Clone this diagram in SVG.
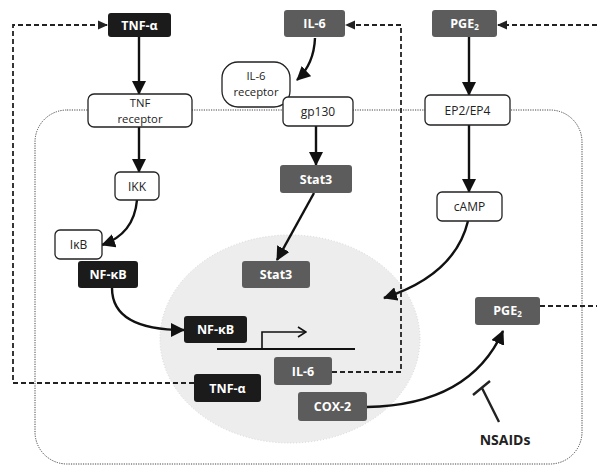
<svg xmlns="http://www.w3.org/2000/svg" width="597" height="466" viewBox="0 0 597 466">
<defs>
<marker id="ah" markerUnits="userSpaceOnUse" markerWidth="14" markerHeight="14" refX="13" refY="7" orient="auto">
<path d="M0,0 L14,7 L0,14 Z" fill="#111"/>
</marker>
<marker id="ahs" markerUnits="userSpaceOnUse" markerWidth="10" markerHeight="10" refX="9" refY="5" orient="auto">
<path d="M0,0.5 L10,5 L0,9.5 Z" fill="#222"/>
</marker>
<marker id="open" markerUnits="userSpaceOnUse" markerWidth="10" markerHeight="12" refX="9" refY="6" orient="auto">
<path d="M1,1 L9,6 L1,11" fill="none" stroke="#111" stroke-width="1.6"/>
</marker>
</defs>
<style>
text{font-family:"Open Sans","Noto Sans","Liberation Sans",sans-serif;text-anchor:middle}
.w rect{fill:#fff;stroke:#222;stroke-width:1.3}
.w text{font-size:12px;fill:#222}
.w text.two{font-size:11.3px}
.k rect{fill:#1b1b1b}
.g rect{fill:#5c5c5c}
.k text,.g text{font-size:12.5px;font-weight:bold;fill:#fff}
.arr{fill:none;stroke:#111;stroke-width:2.4}
.dash{fill:none;stroke:#222;stroke-width:1.8;stroke-dasharray:5,3}
</style>
<rect width="597" height="466" fill="#fff"/>
<ellipse id="nucleus" cx="290" cy="339" rx="130" ry="104" fill="#ededed" stroke="#d6d6d6" stroke-width="1" stroke-dasharray="1,2"/>
<rect id="cell" x="35" y="110" width="547" height="354" rx="32" fill="none" stroke="#444" stroke-width="1" stroke-dasharray="1.2,1.2"/>
<g id="connectors">
<path class="arr" d="M139,37 V94" marker-end="url(#ah)"/>
<path class="arr" d="M315,38 Q314,64 297,80" marker-end="url(#ah)"/>
<path class="arr" d="M469,37 V95" marker-end="url(#ah)"/>
<path class="arr" d="M139,127 V172" marker-end="url(#ah)"/>
<path class="arr" d="M137,200 Q134,234 102,245" marker-end="url(#ah)"/>
<path class="arr" d="M112,288 Q112,330 184,330" marker-end="url(#ah)"/>
<path class="arr" d="M316,126 V165" marker-end="url(#ah)"/>
<path class="arr" d="M314,193 L277,260" stroke-width="2.2" marker-end="url(#ah)"/>
<path class="arr" d="M469,125 V192" marker-end="url(#ah)"/>
<path class="arr" d="M468,221 Q455,275 384,298" marker-end="url(#ah)"/>
<path class="arr" d="M367,407 Q470,405 503,331" marker-end="url(#ah)"/>
<path d="M499,422 L482,388 M473,395 L490,381" fill="none" stroke="#222" stroke-width="2.4"/>
<path d="M217,349 H355" stroke="#111" stroke-width="1.8"/>
<path d="M262,349 V332 H306" fill="none" stroke="#111" stroke-width="1.6" marker-end="url(#open)"/>
<path class="dash" d="M194,383 H13 V25 H107" marker-end="url(#ahs)"/>
<path class="dash" d="M332,372 H401 V25 H346" marker-end="url(#ahs)"/>
<path class="dash" d="M597,25 H498" marker-end="url(#ahs)"/>
<path class="dash" d="M540,306 H597"/>
</g>
<g id="tnfa" class="k"><rect x="108" y="13" width="63" height="24" rx="3"/><text x="139.5" y="30">TNF-α</text></g>
<g id="il6" class="g"><rect x="284" y="10" width="61" height="27" rx="3"/><text x="314.5" y="28">IL-6</text></g>
<g id="pge2" class="g"><rect x="432" y="10" width="65" height="27" rx="3"/><text x="464.5" y="28">PGE<tspan font-size="8" dy="2">2</tspan></text></g>
<g id="tnfr" class="w"><rect x="88" y="94" width="104" height="33" rx="6"/><text class="two" x="140" y="106.5">TNF</text><text class="two" x="140" y="122.5">receptor</text></g>
<g id="il6r" class="w"><rect x="222" y="62" width="68" height="45" rx="16"/><text class="two" x="256" y="80">IL-6</text><text class="two" x="256" y="96">receptor</text></g>
<g id="gp130" class="w"><rect x="283" y="97" width="70" height="29" rx="5"/><text x="318" y="116">gp130</text></g>
<g id="ep" class="w"><rect x="425" y="95" width="85" height="30" rx="5"/><text x="467.5" y="115">EP2/EP4</text></g>
<g id="ikk" class="w"><rect x="115" y="172" width="44" height="28" rx="5"/><text x="137" y="191">IKK</text></g>
<g id="ikb" class="w"><rect x="55" y="230" width="47" height="29" rx="5"/><text x="78.5" y="249">IκB</text></g>
<g id="nfkb1" class="k"><rect x="78" y="261" width="60" height="27" rx="3"/><text x="108" y="279">NF-κB</text></g>
<g id="stat3a" class="g"><rect x="280" y="165" width="72" height="28" rx="3"/><text x="316" y="184">Stat3</text></g>
<g id="stat3b" class="g"><rect x="242" y="261" width="68" height="27" rx="3"/><text x="276" y="279">Stat3</text></g>
<g id="camp" class="w"><rect x="437" y="192" width="65" height="29" rx="5"/><text x="469.5" y="211">cAMP</text></g>
<g id="nfkb2" class="k"><rect x="184" y="316" width="63" height="27" rx="3"/><text x="215.5" y="334">NF-κB</text></g>
<g id="il6n" class="g"><rect x="274" y="357" width="58" height="28" rx="3"/><text x="303" y="376">IL-6</text></g>
<g id="tnfan" class="k"><rect x="194" y="374" width="67" height="28" rx="3"/><text x="227.5" y="393">TNF-α</text></g>
<g id="cox2" class="g"><rect x="298" y="392" width="69" height="29" rx="3"/><text x="332.5" y="411">COX-2</text></g>
<g id="pge2n" class="g"><rect x="475" y="297" width="65" height="28" rx="3"/><text x="507.5" y="315">PGE<tspan font-size="8" dy="2">2</tspan></text></g>
<g id="nsaids"><text x="505" y="445" font-size="14" font-weight="bold" fill="#222">NSAIDs</text></g>
</svg>
